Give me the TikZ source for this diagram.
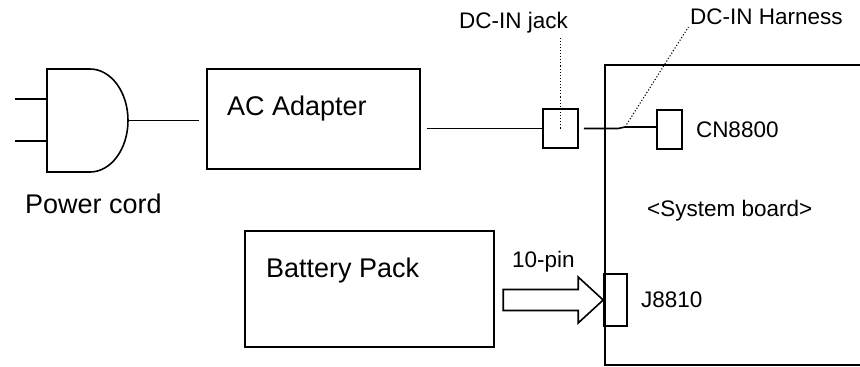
\documentclass[tikz,border=0pt]{standalone}
\usepackage{fontspec}
\setmainfont{Liberation Sans}
\usetikzlibrary{positioning, calc}
\tikzset{>=latex}
\tikzset{
  part/.style={draw, line width=1.6pt, inner sep=0},
  bigtext/.style={font=\fontsize{27}{30}\selectfont, inner sep=0},
  smalltext/.style={font=\fontsize{22.5}{26}\selectfont, inner sep=0},
  wire/.style={line width=1.6pt},
  leader/.style={dotted, line width=1.1pt}
}

\begin{document}
\begin{tikzpicture}[x=1pt, y=-1pt]
  \useasboundingbox (0,0) rectangle (860,367);
  % power cord plug
  \draw[wire] (15,99) -- (47,99) (15,141) -- (47,141);
  \draw[wire] (90,69) -- (47,69) -- (47,172) -- (90,172) arc[start angle=90, end angle=-90, x radius=38, y radius=51.5] -- cycle;
  \coordinate (plug) at (128,120.5);
  \node[bigtext, anchor=base west] (cordlabel) at (25,213) {Power cord};

  % adapter and jack
  \node[part, minimum width=213pt, minimum height=100pt] (adapter) at (313.5,119) {};
  \node[bigtext, anchor=base west] (adaptertext) at (227,115) {AC Adapter};
  \draw[wire, shorten >=7pt] (plug) -- (plug -| adapter.west);
  \node[part, minimum width=35pt, minimum height=39pt] (jack) at (560.5,128.5) {};
  \draw[wire, shorten <=6pt] (adapter.east |- jack) -- (jack.west);
  \node[smalltext, anchor=base east] (jacklabel) at (568,28) {DC-IN jack};
  \draw[leader] (jack.center) -- ++(0,-91);

  % system board
  \coordinate (boardtop) at (605,65);
  \coordinate (boardbottom) at (605,365);
  \draw[wire] (860,65) -- (boardtop) -- (boardbottom) -- (860,365);
  \node[smalltext, anchor=base west] (boardlabel) at (647,216) {\textless System board\textgreater};

  \node[part, minimum width=25pt, minimum height=39pt] (cn) at (669.5,129.5) {};
  \node[smalltext, right=13pt of cn] (cnlabel) {CN8800};
  \coordinate (kink) at (618,128.5);
  \coordinate (harness) at (625,127);
  \draw[wire, shorten <=5pt] (jack.east) -- (kink) -- (harness) -- (cn.west |- harness);
  \node[smalltext, anchor=base west] (harnesslabel) at (690,24) {DC-IN Harness};
  \draw[leader, shorten >=3pt] (harness) -- (harnesslabel.south west);

  % battery
  \node[part, minimum width=249pt, minimum height=116pt] (battery) at (369.5,289) {};
  \node[bigtext, anchor=base west] (batterytext) at (266,277) {Battery Pack};
  \node[part, minimum width=23pt, minimum height=52pt] (jconn) at (615.5,300) {};
  \node[smalltext, right=13pt of jconn] (jlabel) {J8810};
  \draw[wire, fill=white] (jconn.west) -- ++(-25,-23) -- ++(0,12.5) -- ++(-75,0) -- ++(0,21) -- ++(75,0) -- ++(0,12.5) -- cycle;
  \node[smalltext, anchor=base west] (pinlabel) at (512,267) {10-pin};
\end{tikzpicture}
\end{document}
